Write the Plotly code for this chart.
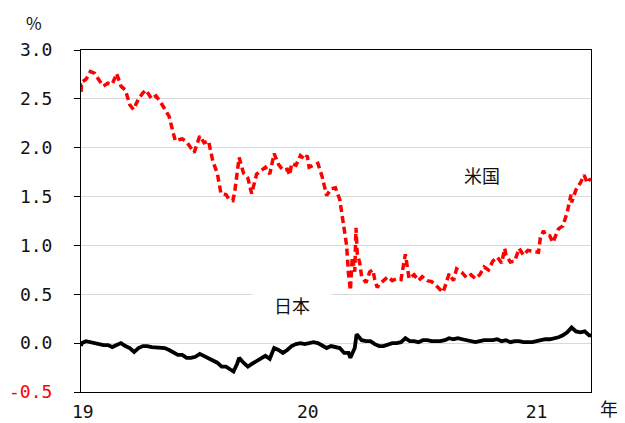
import plotly.graph_objects as go

# ---- data ----
us_dates = ["2019-01-02","2019-01-03","2019-01-04","2019-01-11","2019-01-18","2019-01-25","2019-02-01","2019-02-08",
            "2019-02-15","2019-02-22","2019-03-01","2019-03-08","2019-03-15","2019-03-22","2019-03-28","2019-04-05",
            "2019-04-12","2019-04-17","2019-04-26","2019-05-03","2019-05-10","2019-05-17","2019-05-24","2019-05-31",
            "2019-06-03","2019-06-07","2019-06-14","2019-06-21","2019-06-28","2019-07-03","2019-07-12","2019-07-19",
            "2019-07-26","2019-08-02","2019-08-09","2019-08-15","2019-08-23","2019-08-28","2019-09-03","2019-09-06",
            "2019-09-13","2019-09-20","2019-09-27","2019-10-03","2019-10-11","2019-10-18","2019-10-25","2019-11-01",
            "2019-11-08","2019-11-15","2019-11-22","2019-11-29","2019-12-03","2019-12-06","2019-12-13","2019-12-20",
            "2019-12-27","2019-12-31","2020-01-03","2020-01-10","2020-01-17","2020-01-24","2020-01-31","2020-02-07",
            "2020-02-14","2020-02-21","2020-02-28","2020-03-03","2020-03-06","2020-03-09","2020-03-12","2020-03-16",
            "2020-03-18","2020-03-20","2020-03-24","2020-03-27","2020-04-03","2020-04-09","2020-04-14","2020-04-17",
            "2020-04-21","2020-04-24","2020-05-01","2020-05-08","2020-05-15","2020-05-22","2020-05-29","2020-06-05",
            "2020-06-11","2020-06-19","2020-06-26","2020-07-02","2020-07-10","2020-07-17","2020-07-24","2020-07-31",
            "2020-08-04","2020-08-07","2020-08-14","2020-08-21","2020-08-26","2020-09-04","2020-09-11","2020-09-18",
            "2020-09-25","2020-10-02","2020-10-09","2020-10-16","2020-10-23","2020-10-30","2020-11-06","2020-11-11",
            "2020-11-13","2020-11-20","2020-11-27","2020-12-04","2020-12-11","2020-12-18","2020-12-24","2020-12-31",
            "2021-01-04","2021-01-07","2021-01-12","2021-01-15","2021-01-22","2021-01-27","2021-02-05","2021-02-12",
            "2021-02-19","2021-02-25","2021-02-26","2021-03-05","2021-03-12","2021-03-18","2021-03-23","2021-03-26",
            "2021-03-29"]
us_yield = [2.66,2.56,2.67,2.70,2.78,2.76,2.69,2.63,
            2.66,2.65,2.76,2.63,2.59,2.44,2.39,2.50,
            2.56,2.59,2.50,2.53,2.47,2.39,2.32,2.14,
            2.07,2.08,2.09,2.06,2.00,1.95,2.12,2.05,
            2.07,1.86,1.74,1.53,1.52,1.47,1.46,1.55,
            1.90,1.74,1.69,1.53,1.73,1.76,1.80,1.73,
            1.94,1.83,1.77,1.78,1.72,1.84,1.82,1.92,
            1.88,1.92,1.80,1.82,1.84,1.70,1.51,1.58,
            1.59,1.47,1.13,1.00,0.71,0.54,0.88,0.73,
            1.18,0.92,0.82,0.68,0.62,0.73,0.75,0.65,
            0.57,0.60,0.64,0.68,0.64,0.66,0.65,0.91,
            0.66,0.70,0.64,0.68,0.64,0.63,0.59,0.55,
            0.52,0.57,0.71,0.64,0.76,0.72,0.67,0.70,
            0.66,0.70,0.78,0.75,0.84,0.88,0.82,0.97,
            0.90,0.83,0.84,0.97,0.90,0.95,0.94,0.93,
            0.93,1.08,1.15,1.11,1.10,1.03,1.17,1.20,
            1.34,1.52,1.44,1.57,1.64,1.72,1.64,1.67,
            1.68]

jp_dates = ["2019-01-03","2019-01-04","2019-01-11","2019-01-18","2019-01-25","2019-02-01","2019-02-08","2019-02-15",
            "2019-02-22","2019-03-01","2019-03-08","2019-03-15","2019-03-22","2019-03-29","2019-04-05","2019-04-12",
            "2019-04-19","2019-04-26","2019-05-10","2019-05-17","2019-05-24","2019-05-31","2019-06-07","2019-06-14",
            "2019-06-21","2019-06-28","2019-07-05","2019-07-12","2019-07-19","2019-07-26","2019-08-02","2019-08-09",
            "2019-08-16","2019-08-23","2019-08-30","2019-09-04","2019-09-10","2019-09-13","2019-09-20","2019-09-27",
            "2019-10-04","2019-10-11","2019-10-18","2019-10-25","2019-11-01","2019-11-08","2019-11-15","2019-11-22",
            "2019-11-29","2019-12-06","2019-12-13","2019-12-20","2019-12-27","2020-01-03","2020-01-10","2020-01-17",
            "2020-01-24","2020-01-31","2020-02-07","2020-02-14","2020-02-21","2020-02-28","2020-03-06","2020-03-09",
            "2020-03-13","2020-03-16","2020-03-19","2020-03-24","2020-03-27","2020-04-03","2020-04-10","2020-04-17",
            "2020-04-24","2020-05-01","2020-05-08","2020-05-15","2020-05-22","2020-05-29","2020-06-05","2020-06-12",
            "2020-06-19","2020-06-26","2020-07-03","2020-07-10","2020-07-17","2020-07-24","2020-07-31","2020-08-07",
            "2020-08-14","2020-08-21","2020-08-28","2020-09-04","2020-09-11","2020-09-18","2020-09-25","2020-10-02",
            "2020-10-09","2020-10-16","2020-10-23","2020-10-30","2020-11-06","2020-11-13","2020-11-20","2020-11-27",
            "2020-12-04","2020-12-11","2020-12-18","2020-12-25","2021-01-08","2021-01-15","2021-01-22","2021-01-29",
            "2021-02-05","2021-02-12","2021-02-19","2021-02-26","2021-03-05","2021-03-12","2021-03-19","2021-03-26",
            "2021-03-29"]
jp_yield = [-0.03,0.00,0.02,0.01,0.00,-0.01,-0.02,-0.02,
            -0.04,-0.02,0.00,-0.03,-0.05,-0.09,-0.05,-0.03,
            -0.03,-0.04,-0.05,-0.05,-0.07,-0.09,-0.12,-0.12,
            -0.15,-0.15,-0.14,-0.11,-0.13,-0.15,-0.17,-0.20,
            -0.24,-0.24,-0.27,-0.29,-0.21,-0.15,-0.20,-0.24,
            -0.21,-0.18,-0.15,-0.13,-0.16,-0.05,-0.07,-0.10,
            -0.07,-0.03,-0.01,0.00,-0.01,0.00,0.01,0.00,
            -0.02,-0.05,-0.03,-0.04,-0.05,-0.10,-0.10,-0.15,
            -0.10,-0.05,0.09,0.05,0.03,0.02,0.02,-0.01,
            -0.03,-0.03,-0.01,0.00,0.00,0.01,0.05,0.02,
            0.02,0.01,0.03,0.03,0.02,0.02,0.02,0.03,
            0.05,0.04,0.05,0.04,0.03,0.02,0.01,0.02,
            0.03,0.03,0.03,0.04,0.02,0.03,0.01,0.02,
            0.02,0.01,0.01,0.01,0.03,0.04,0.04,0.05,
            0.06,0.08,0.11,0.16,0.12,0.11,0.12,0.08,
            0.08]

y_ticks = [-0.5, 0.0, 0.5, 1.0, 1.5, 2.0, 2.5, 3.0]
y_tick_text = ['<span style="color:#ff0000">-0.5</span>', "0.0", "0.5", "1.0", "1.5", "2.0", "2.5", "3.0"]
x_tick_vals = ["2019-01-06", "2020-01-01", "2021-01-01"]
x_tick_text = ["19", "20", "21"]
quarter_ticks = ["2019-04-01","2019-07-01","2019-10-01","2020-01-01","2020-04-01","2020-07-01",
                 "2020-10-01","2021-01-01"]
x_range = ["2019-01-03", "2021-03-29"]
y_range = [-0.5, 3.0]

FONT = "Noto Sans CJK JP"
NUMFONT = "DejaVu Sans Mono"
TXT = "#111111"

fig = go.Figure()
fig.add_trace(go.Scatter(x=us_dates, y=us_yield, mode="lines", name="米国",
                         line=dict(color="#ff0000", width=3.5, dash="7px,4px")))
fig.add_trace(go.Scatter(x=jp_dates, y=jp_yield, mode="lines", name="日本",
                         line=dict(color="#000000", width=3.8)))

# page body has an 8px offset, so the figure is 8px smaller and margins 8px tighter
fig.update_layout(
    template="none",
    width=617, height=415,
    margin=dict(l=73, r=34, t=42, b=31, autoexpand=False),
    paper_bgcolor="white", plot_bgcolor="white",
    showlegend=False,
    font=dict(family=FONT, size=18, color=TXT),
    xaxis=dict(type="date", range=x_range, tickvals=x_tick_vals, ticktext=x_tick_text,
               ticks="", showgrid=False, showline=True, linecolor="#000000", linewidth=1,
               mirror=True, zeroline=False, ticklabelstandoff=3, automargin=False,
               tickfont=dict(family=NUMFONT, size=18, color=TXT)),
    xaxis2=dict(type="date", range=x_range, overlaying="x", anchor="free",
                position=(0 - y_range[0]) / (y_range[1] - y_range[0]), side="bottom",
                tickvals=quarter_ticks, ticks="outside", ticklen=3, tickwidth=1,
                tickcolor="#c8c8c8", showticklabels=False, showline=False, showgrid=False,
                zeroline=False, automargin=False),
    yaxis=dict(range=y_range, tickvals=y_ticks, ticktext=y_tick_text,
               ticks="outside", ticklen=6, tickcolor="#000000", tickwidth=1,
               showgrid=True, gridcolor="#d9d9d9", gridwidth=1,
               showline=True, linecolor="#000000", linewidth=1, mirror=True,
               zeroline=False, ticklabelstandoff=18, automargin=False,
               tickfont=dict(family=NUMFONT, size=18, color=TXT)),
)

# page-pixel -> paper fraction (plot area spans x 81..591, y 50..392 on the page)
def px_x(px):
    return (px - 81) / 510.0

def px_y(py):
    return (392 - py) / 342.0

def label(text, cx, cy, size=18, **kw):
    fig.add_annotation(text=text, xref="paper", yref="paper", x=px_x(cx), y=px_y(cy),
                       xanchor="center", yanchor="middle", showarrow=False,
                       font=dict(family=FONT, size=size, color=TXT), **kw)

label("%", 34, 23, size=17)
label("年", 609, 408)
label("米国", 482, 175)
label("日本", 292, 305, bgcolor="white", width=76, height=22)

fig.write_html("out.html")
